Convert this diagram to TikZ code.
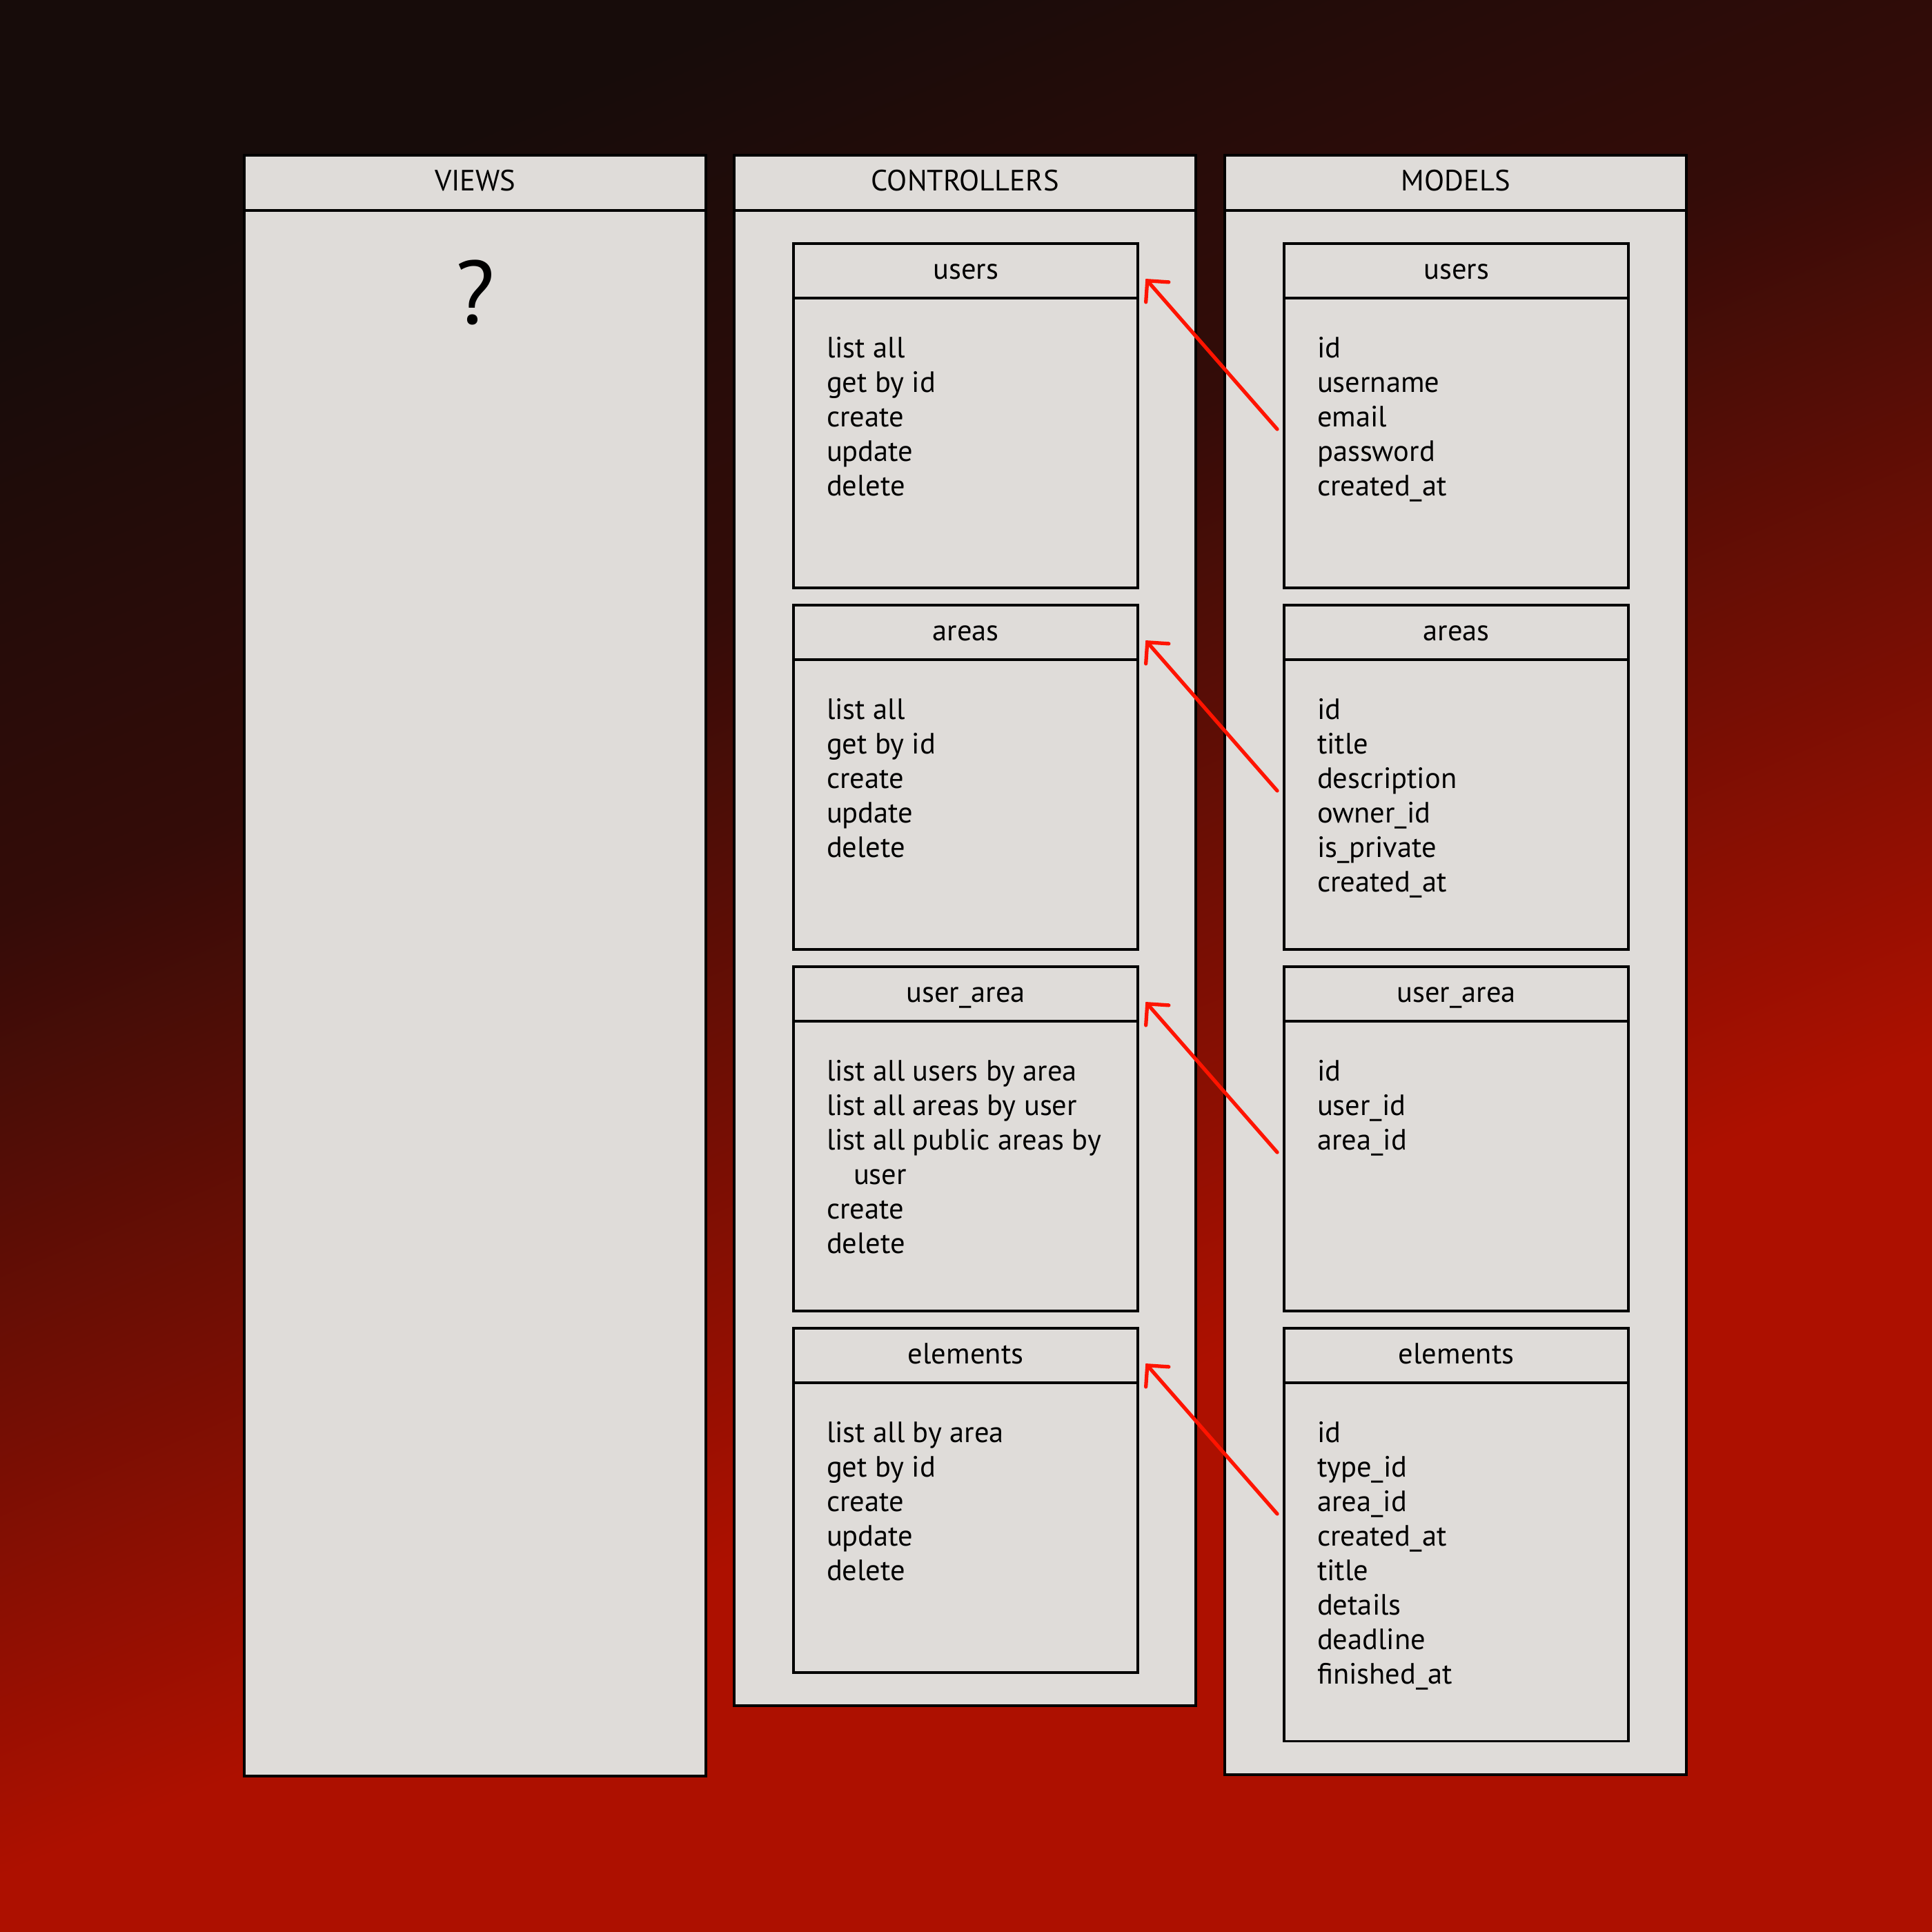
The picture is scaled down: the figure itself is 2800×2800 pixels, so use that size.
\documentclass[tikz,border=0pt]{standalone}
\usepackage{fontspec}
\setmainfont{PT Sans}
\usetikzlibrary{arrows.meta,calc}
\definecolor{bgA}{HTML}{170C0A}
\definecolor{bgB}{HTML}{340C08}
\definecolor{bgC}{HTML}{AD1000}
\definecolor{panel}{HTML}{DFDCD9}
\definecolor{arrowred}{HTML}{FF1400}
\pgfdeclareverticalshading{bgshade}{100bp}{color(0bp)=(bgC); color(38bp)=(bgC); color(61bp)=(bgB); color(75bp)=(bgA); color(100bp)=(bgA)}
\begin{document}
\begin{tikzpicture}[x=0.01cm, y=-0.01cm,
  every node/.style={inner sep=0pt, outer sep=0pt},
  col/.style={draw=black, fill=panel, line width=1.15pt, anchor=north west, minimum width=6.69cm},
  tbl/.style={draw=black, fill=panel, line width=1.05pt, anchor=north west, minimum width=4.99cm},
  hdr/.style={draw=black, line width=1.1pt},
  txt/.style={anchor=base west, font=\fontsize{12.1pt}{14pt}\selectfont, text=black},
  ttl/.style={anchor=base, font=\fontsize{12.1pt}{14pt}\selectfont, text=black},
  link/.style={draw=arrowred, line width=1.5pt, line cap=round, -{Straight Barb[length=0.22cm, width=0.44cm, line cap=round]}}
]
\useasboundingbox (0,0) rectangle (2800,2800);
\shade[shading=bgshade, shading angle=23] (0,0) rectangle (2800,2800);

% columns
\node[col, minimum height=23.48cm] (views) at (354,225) {};
\node[col, minimum height=22.46cm] (ctrl) at (1064,225) {};
\node[col, minimum height=23.46cm] (models) at (1775,225) {};
\foreach \c in {views,ctrl,models}
  \draw[hdr] ($(\c.north west)+(0,80)$) -- ($(\c.north east)+(0,80)$);
\node[ttl] (viewsT) at ($(views.north)+(0,52)$) {VIEWS};
\node[ttl] (ctrlT) at ($(ctrl.north)+(0,52)$) {CONTROLLERS};
\node[ttl] (modelsT) at ($(models.north)+(0,52)$) {MODELS};
\node[anchor=base, font=\fontsize{37pt}{40pt}\selectfont] (qm) at ($(views.north)+(0,244)$) {?};

% controller tables
\node[tbl, minimum height=4.99cm] (c1) at (1150,353) {};
\node[tbl, minimum height=4.99cm] (c2) at (1150,877) {};
\node[tbl, minimum height=4.99cm] (c3) at (1150,1401) {};
\node[tbl, minimum height=4.99cm] (c4) at (1150,1925) {};
% model tables
\node[tbl, minimum height=4.99cm] (m1) at (1861,353) {};
\node[tbl, minimum height=4.99cm] (m2) at (1861,877) {};
\node[tbl, minimum height=4.99cm] (m3) at (1861,1401) {};
\node[tbl, minimum height=5.98cm] (m4) at (1861,1925) {};
\foreach \b in {c1,c2,c3,c4,m1,m2,m3,m4}
  \draw[hdr] ($(\b.north west)+(0,79)$) -- ($(\b.north east)+(0,79)$);

\node[ttl] (c1T) at ($(c1.north)+(0,51)$) {users};
\node[ttl] (c2T) at ($(c2.north)+(0,51)$) {areas};
\node[ttl] (c3T) at ($(c3.north)+(0,51)$) {user\_area};
\node[ttl] (c4T) at ($(c4.north)+(0,51)$) {elements};
\node[ttl] (m1T) at ($(m1.north)+(0,51)$) {users};
\node[ttl] (m2T) at ($(m2.north)+(0,51)$) {areas};
\node[ttl] (m3T) at ($(m3.north)+(0,51)$) {user\_area};
\node[ttl] (m4T) at ($(m4.north)+(0,51)$) {elements};

% controller bodies
\foreach \t [count=\i from 0] in {list all, get by id, create, update, delete}
  \node[txt] (c1-\i) at ($(c1.north west)+(48,165+50*\i)$) {\t};
\foreach \t [count=\i from 0] in {list all, get by id, create, update, delete}
  \node[txt] (c2-\i) at ($(c2.north west)+(48,165+50*\i)$) {\t};
\node[txt] (c3-0) at ($(c3.north west)+(48,165)$) {list all users by area};
\node[txt] (c3-1) at ($(c3.north west)+(48,215)$) {list all areas by user};
\node[txt] (c3-2) at ($(c3.north west)+(48,265)$) {list all public areas by};
\node[txt] (c3-3) at ($(c3.north west)+(87,315)$) {user};
\node[txt] (c3-4) at ($(c3.north west)+(48,365)$) {create};
\node[txt] (c3-5) at ($(c3.north west)+(48,415)$) {delete};
\foreach \t [count=\i from 0] in {list all by area, get by id, create, update, delete}
  \node[txt] (c4-\i) at ($(c4.north west)+(48,165+50*\i)$) {\t};

% model bodies
\foreach \t [count=\i from 0] in {id, username, email, password, created\_at}
  \node[txt] (m1-\i) at ($(m1.north west)+(48,165+50*\i)$) {\t};
\foreach \t [count=\i from 0] in {id, title, description, owner\_id, is\_private, created\_at}
  \node[txt] (m2-\i) at ($(m2.north west)+(48,165+50*\i)$) {\t};
\foreach \t [count=\i from 0] in {id, user\_id, area\_id}
  \node[txt] (m3-\i) at ($(m3.north west)+(48,165+50*\i)$) {\t};
\foreach \t [count=\i from 0] in {id, type\_id, area\_id, created\_at, title, details, deadline, finished\_at}
  \node[txt] (m4-\i) at ($(m4.north west)+(48,165+50*\i)$) {\t};

% connectors
\foreach \k in {1,2,3,4} {
  \coordinate (a\k s) at ($(m\k.north west)+(-10,269)$);
  \coordinate (a\k e) at ($(c\k.north east)+(11,51)$);
  \draw[link] (a\k s) -- (a\k e);
}
\end{tikzpicture}
\end{document}
